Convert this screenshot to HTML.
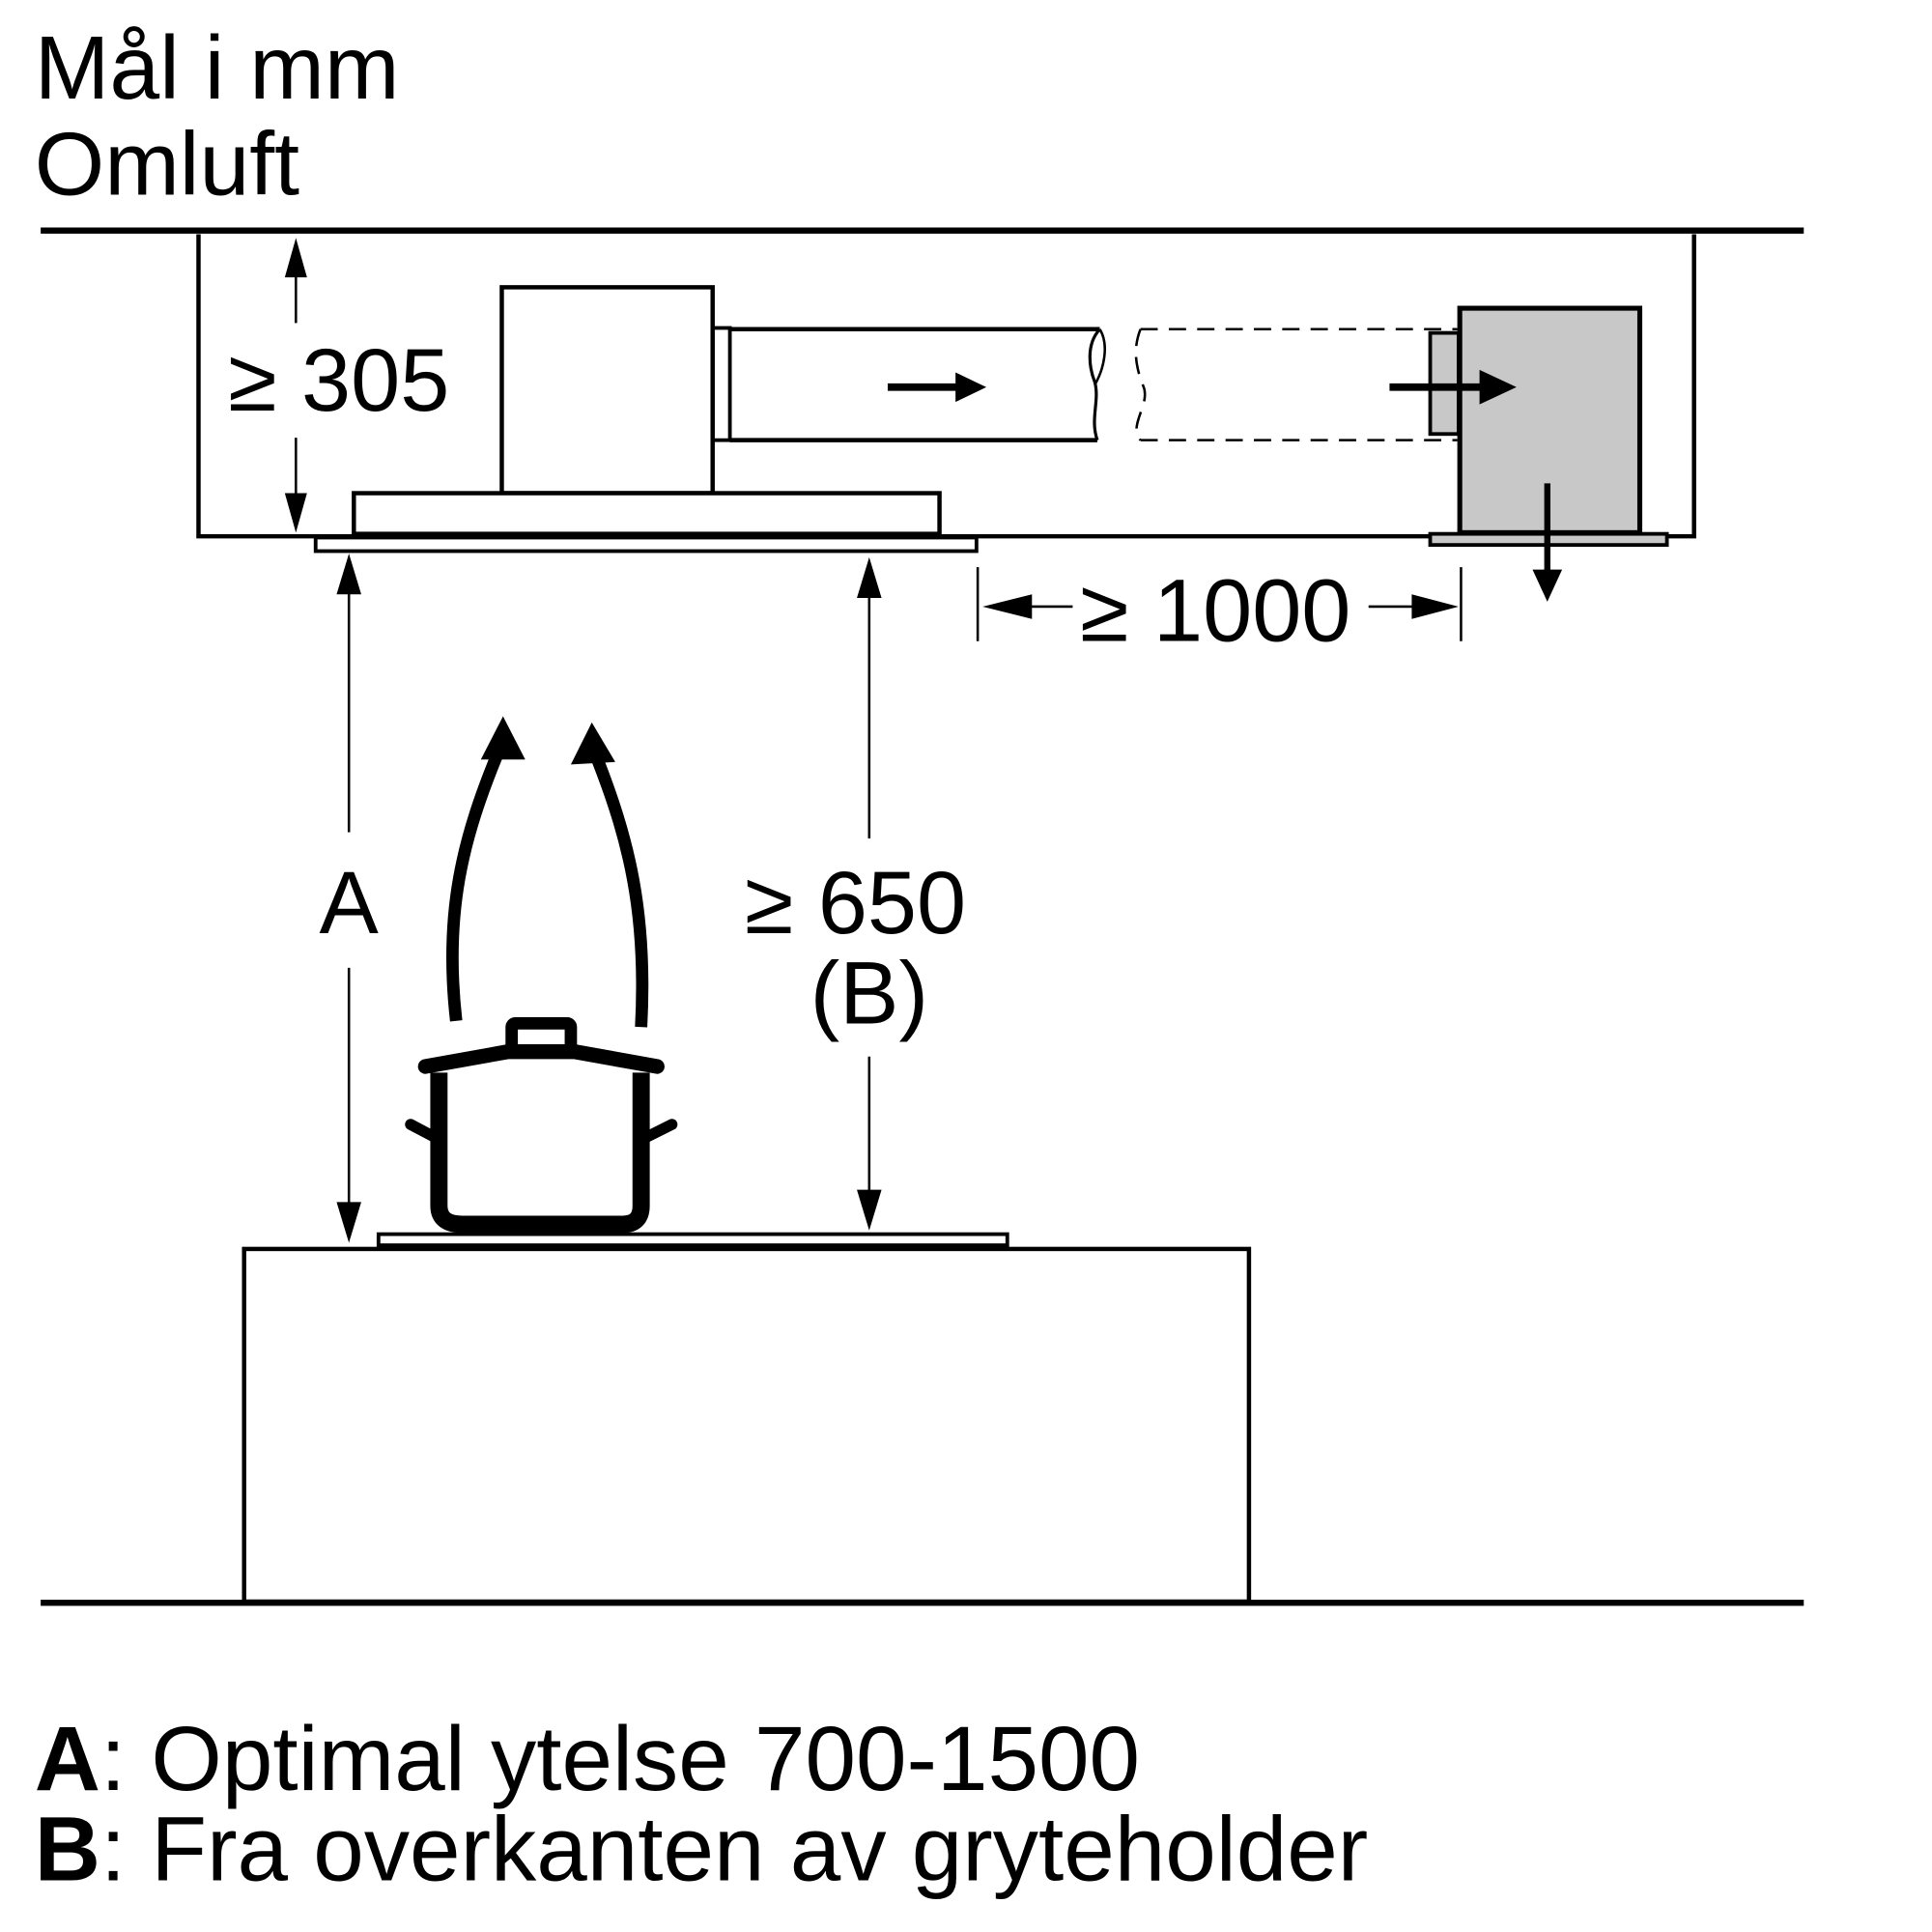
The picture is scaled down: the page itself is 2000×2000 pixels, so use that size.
<!DOCTYPE html>
<html><head><meta charset="utf-8"><style>html,body{margin:0;padding:0;background:#fff}svg{display:block}</style></head>
<body>
<svg width="2000" height="2000" viewBox="0 0 1567 1567" xmlns="http://www.w3.org/2000/svg" font-family="Liberation Sans, Arial, sans-serif">
<rect width="1567" height="1567" fill="#fff"/>
<text x="28" y="80" font-size="73">Mål i mm</text>
<text x="28" y="158" font-size="73">Omluft</text>
<g stroke="#000" fill="none">
<line x1="33" y1="187" x2="1463" y2="187" stroke-width="5"/>
<line x1="33" y1="1300" x2="1463" y2="1300" stroke-width="5"/>
<polyline points="161,190 161,435 1374,435 1374,190" stroke-width="3.5"/>
<rect x="407" y="233" width="171" height="167" stroke-width="3.5" fill="#fff"/>
<rect x="287" y="400" width="475" height="33" stroke-width="3.5" fill="#fff"/>
<rect x="256" y="436" width="536" height="11" stroke-width="3" fill="#fff"/>
<rect x="578" y="266" width="14" height="91" stroke-width="3"/>
<line x1="592" y1="267" x2="892" y2="267" stroke-width="3.5"/>
<line x1="592" y1="357" x2="890" y2="357" stroke-width="3.5"/>
<path d="M892,267 C880,280 884,300 888,310 C892,325 884,340 890,357" stroke-width="2.5"/>
<path d="M892,267 C900,280 895,300 888,312" stroke-width="2"/>
<g stroke-dasharray="14,9" stroke-width="2">
<line x1="925" y1="267" x2="1182" y2="267"/>
<line x1="925" y1="357" x2="1182" y2="357"/>
<path d="M925,267 C918,285 922,300 928,315 C932,330 915,345 925,357"/>
</g>
<rect x="1160" y="270" width="23" height="82" stroke-width="3" fill="#c8c8c8"/>
<rect x="1184" y="250" width="146" height="182" stroke-width="4" fill="#c8c8c8"/>
<rect x="1160" y="433" width="192" height="9" stroke-width="3" fill="#c8c8c8"/>
<line x1="720" y1="314" x2="780" y2="314" stroke-width="6"/>
<line x1="1127" y1="314" x2="1210" y2="314" stroke-width="6"/>
<line x1="1255" y1="392" x2="1255" y2="465" stroke-width="5"/>
<line x1="240" y1="215" x2="240" y2="262" stroke-width="2"/>
<line x1="240" y1="355" x2="240" y2="410" stroke-width="2"/>
<line x1="793" y1="460" x2="793" y2="520" stroke-width="2"/>
<line x1="1185" y1="460" x2="1185" y2="520" stroke-width="2"/>
<line x1="830" y1="492" x2="870" y2="492" stroke-width="2"/>
<line x1="1110" y1="492" x2="1155" y2="492" stroke-width="2"/>
<line x1="283" y1="475" x2="283" y2="675" stroke-width="2"/>
<line x1="283" y1="785" x2="283" y2="980" stroke-width="2"/>
<line x1="705" y1="475" x2="705" y2="680" stroke-width="2"/>
<line x1="705" y1="857" x2="705" y2="970" stroke-width="2"/>
<path d="M370,828 C360,740 375,680 405,608" stroke-width="10"/>
<path d="M520,833 C525,740 510,680 483,612" stroke-width="10"/>
<path d="M356,870 L356,978 Q356,993 375,993 L505,993 Q520,993 520,978 L520,870" stroke-width="14" stroke-linejoin="round"/>
<path d="M345,865 L412,853 L466,853 L533,865" stroke-width="12" stroke-linecap="round" stroke-linejoin="round"/>
<rect x="415" y="830" width="48" height="22" stroke-width="10" rx="3"/>
<line x1="333" y1="912" x2="352" y2="922" stroke-width="9" stroke-linecap="round"/>
<line x1="545" y1="912" x2="525" y2="922" stroke-width="9" stroke-linecap="round"/>
<rect x="307" y="1001" width="510" height="9" stroke-width="3" fill="#fff"/>
<rect x="198" y="1013" width="815" height="286" stroke-width="3.5"/>
</g>
<g fill="#000">
<polygon points="1200,300 1230,314 1200,328"/>
<polygon points="775,302 800,314 775,326"/>
<polygon points="1243,462 1255,488 1267,462"/>
<polygon points="240,193 231,225 249,225"/>
<polygon points="240,432 231,400 249,400"/>
<polygon points="797,492 837,482 837,502"/>
<polygon points="1183,492 1145,482 1145,502"/>
<polygon points="283,449 273,482 293,482"/>
<polygon points="283,1008 273,975 293,975"/>
<polygon points="705,452 695,485 715,485"/>
<polygon points="705,998 695,965 715,965"/>
<polygon points="408,581 390,616 426,616"/>
<polygon points="480,586 463,620 499,618"/>
</g>
<g font-size="72">
<text x="185" y="333">≥ 305</text>
<text x="876" y="520">≥ 1000</text>
<text x="283" y="757" text-anchor="middle">A</text>
<text x="604" y="757">≥ 650</text>
<text x="705" y="830" text-anchor="middle">(B)</text>
</g>
<g font-size="74">
<text x="28" y="1452"><tspan font-weight="bold">A</tspan>: Optimal ytelse 700-1500</text>
<text x="28" y="1525"><tspan font-weight="bold">B</tspan>: Fra overkanten av gryteholder</text>
</g>
</svg>
</body></html>
